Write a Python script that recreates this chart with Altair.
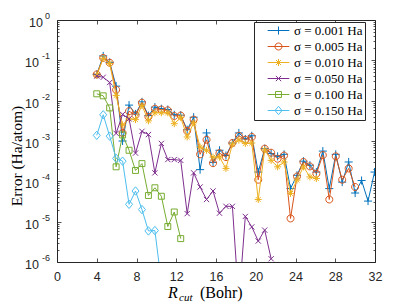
import altair as alt
import pandas as pd

# ---------------- data ----------------
r_cut = [4.0, 4.65, 5.3, 5.95, 6.6, 7.25, 7.9, 8.55, 9.2, 9.85, 10.5, 11.15, 11.8,
         12.45, 13.1, 13.75, 14.4, 15.05, 15.7, 16.35, 17.0, 17.65, 18.3, 18.95,
         19.6, 20.25, 20.9, 21.55, 22.2, 22.85, 23.5, 24.15, 24.8, 25.45, 26.1,
         26.75, 27.4, 28.05, 28.7, 29.35, 30.0, 30.65, 31.3, 31.95]

series_names = ["σ = 0.001 Ha", "σ = 0.005 Ha", "σ = 0.010 Ha",
                "σ = 0.050 Ha", "σ = 0.100 Ha", "σ = 0.150 Ha"]
colors = ["#0072BD", "#D95319", "#EDB120", "#7E2F8E", "#77AC30", "#4DBEEE"]

# log10 of the error (Ha/atom), one entry per R_cut point
log_err_0001 = [-1.35, -0.89, -1.05, -1.64, -3.00, -2.11, -2.33, -2.03, -2.37, -2.16,
                -2.20, -2.22, -2.35, -2.36, -2.72, -2.41, -3.71, -2.80, -3.53, -3.23,
                -3.36, -3.05, -2.80, -2.95, -2.87, -3.77, -3.19, -3.31, -3.38, -3.33,
                -4.18, -3.85, -3.50, -3.60, -3.77, -3.25, -4.18, -3.33, -4.02, -3.52,
                -4.29, -3.98, -4.49, -3.77]
log_err_0005 = [-1.35, -0.94, -1.06, -1.73, -2.80, -2.26, -2.36, -2.05, -2.40, -2.20,
                -2.22, -2.24, -2.38, -2.37, -2.75, -2.47, -3.33, -2.97, -3.55, -3.30,
                -3.40, -3.05, -2.87, -2.97, -2.90, -3.96, -3.19, -3.29, -3.44, -3.36,
                -4.92, -3.88, -3.52, -3.63, -3.81, -3.35, -4.45, -3.38, -3.96, -3.68,
                -4.14]
log_err_0010 = [-1.37, -0.95, -1.08, -1.87, -2.60, -2.45, -2.47, -2.12, -2.50, -2.30,
                -2.30, -2.30, -2.57, -2.42, -2.90, -2.55, -3.15, -3.23, -3.40, -3.40,
                -3.68, -3.08, -2.98, -3.06, -3.05, -4.45, -3.22, -3.48, -3.64, -3.52,
                -4.30, -3.97, -3.64, -3.89, -3.93]
log_err_0050 = [-1.39, -1.42, -1.55, -2.81, -2.34, -2.45, -3.30, -2.76, -2.84, -3.79,
                -3.06, -3.46, -3.46, -3.48, -4.80, -3.79, -4.14, -4.45, -4.24, -4.79,
                -4.62, -4.62, -7.00, -4.87, -5.13, -5.48, -5.21, -5.92]
log_err_0100 = [-1.83, -1.88, -2.18, -3.64, -2.85, -3.23, -3.73, -3.56, -4.35, -4.16,
                -4.37, -5.12, -4.76, -5.42]
log_err_0150 = [-2.86, -2.35, -2.88, -3.43, -3.50, -4.57, -4.24, -4.70, -5.23, -5.22,
                -6.50]

all_logs = [log_err_0001, log_err_0005, log_err_0010,
            log_err_0050, log_err_0100, log_err_0150]

rows = []
for name, logs in zip(series_names, all_logs):
    for r, lv in zip(r_cut, logs):
        rows.append({"series": name, "r": r, "err": 10 ** lv})
df = pd.DataFrame(rows)

y_tick_values = [1, 1e-1, 1e-2, 1e-3, 1e-4, 1e-5, 1e-6]
y_tick_sups = ["0", "-1", "-2", "-3", "-4", "-5", "-6"]
x_tick_values = [0, 4, 8, 12, 16, 20, 24, 28, 32]
y_minor = [m * 10.0 ** e for e in range(-6, 0) for m in range(2, 10)]

# ---------------- styling ----------------
marker_paths = [
    "M-1.15,0L1.15,0M0,-1.15L0,1.15",
    "M1,0A1,1,0,1,1,-1,0A1,1,0,1,1,1,0Z",
    "M-1,0L1,0M0,-1L0,1M-0.7,-0.7L0.7,0.7M-0.7,0.7L0.7,-0.7",
    "M-0.75,-0.75L0.75,0.75M-0.75,0.75L0.75,-0.75",
    "M-0.85,-0.85L0.85,-0.85L0.85,0.85L-0.85,0.85Z",
    "M0,-1.2L1,0L0,1.2L-1,0Z",
]
legend_line = "M-3.1,0L3.1,0"
legend_paths = [legend_line + p for p in marker_paths]

AX = "#262626"
SANS = "Liberation Sans"
SERIF = "Liberation Serif"

xscale = alt.Scale(domain=[0, 32], nice=False, zero=False)
yscale = alt.Scale(type="log", domain=[1e-6, 1], nice=False)

def tick_axis(orient, values, size, labels=False):
    kw = dict(orient=orient, values=values, tickSize=size, offset=-size,
              domain=False, grid=False, labels=labels, title=None,
              tickColor=AX, tickWidth=0.8)
    if labels:
        kw.update(labelFont=SANS, labelFontSize=12.5, labelColor=AX,
                  labelPadding=8.5, labelFlush=False)
    return alt.Axis(**kw)

axes_plan = [
    (tick_axis("bottom", x_tick_values, 4, labels=True), tick_axis("left", y_tick_values, 4)),
    (tick_axis("top", x_tick_values, 4), tick_axis("right", y_tick_values, 4)),
    (None, tick_axis("left", y_minor, 2)),
    (None, tick_axis("right", y_minor, 2)),
]

layers = []
k = 0
for name, color, path in zip(series_names, colors, marker_paths):
    base = alt.Chart(df).transform_filter(alt.datum.series == name)
    for mark in ("line", "point"):
        xa, ya = axes_plan[k] if k < len(axes_plan) else (None, None)
        k += 1
        if mark == "line":
            m = base.mark_line(color=color, strokeWidth=1, clip=True)
        else:
            m = base.mark_point(shape=path, filled=False, size=49, strokeWidth=1,
                                color=color, opacity=1, clip=True)
        layers.append(m.encode(
            x=alt.X("r:Q", scale=xscale, axis=xa),
            y=alt.Y("err:Q", scale=yscale, axis=ya),
        ))

leg = alt.Legend(title=None, orient="none", legendX=197, legendY=2,
                 symbolSize=49, symbolStrokeWidth=1, symbolOffset=16,
                 labelOffset=9, labelFont=SERIF, labelFontSize=13,
                 labelColor="#000000", padding=2, rowPadding=2,
                 strokeColor=AX, fillColor="white",
                 labelExpr="datum.label + '     '")

legend_layer = alt.Chart(df).transform_filter("false").mark_point(
    filled=False, size=49, strokeWidth=1, opacity=1
).encode(
    x=alt.X("r:Q", scale=xscale, axis=None),
    y=alt.Y("err:Q", scale=yscale, axis=None),
    color=alt.Color("series:N", scale=alt.Scale(domain=series_names, range=colors), legend=leg),
    shape=alt.Shape("series:N", scale=alt.Scale(domain=series_names, range=legend_paths), legend=leg),
)

ylab = pd.DataFrame({"v": y_tick_values, "sup": y_tick_sups})
ten_zero = alt.Chart(ylab).transform_filter("datum.sup == '0'").mark_text(
    text="10", align="right", baseline="middle", dy=3, font=SANS, fontSize=12.5, color=AX
).encode(x=alt.value(-14), y=alt.Y("v:Q", scale=yscale, axis=None))
ten_neg = alt.Chart(ylab).transform_filter("datum.sup != '0'").mark_text(
    text="10", align="right", baseline="middle", dy=3, font=SANS, fontSize=12.5, color=AX
).encode(x=alt.value(-18), y=alt.Y("v:Q", scale=yscale, axis=None))
sups = alt.Chart(ylab).mark_text(
    align="right", baseline="middle", dy=-4, font=SANS, fontSize=9, color=AX
).encode(x=alt.value(-7), y=alt.Y("v:Q", scale=yscale, axis=None), text="sup:N")

one = alt.Data(values=[{"a": 1}])
xt_r = alt.Chart(one).mark_text(text="R", font=SERIF, fontStyle="italic", fontSize=16,
                                align="left", baseline="alphabetic", color="#000000"
                                ).encode(x=alt.value(111), y=alt.value(278))
xt_cut = alt.Chart(one).mark_text(text="cut", font=SERIF, fontStyle="italic", fontSize=11,
                                  align="left", baseline="alphabetic", color="#000000"
                                  ).encode(x=alt.value(122), y=alt.value(281))
xt_bohr = alt.Chart(one).mark_text(text="(Bohr)", font=SERIF, fontSize=16,
                                   align="left", baseline="alphabetic", color="#000000"
                                   ).encode(x=alt.value(143), y=alt.value(278))
yt = alt.Chart(one).mark_text(text="Error (Ha/atom)", font=SERIF, fontSize=15.5, angle=270,
                              align="center", baseline="middle", color="#000000"
                              ).encode(x=alt.value(-40), y=alt.value(136))

chart = alt.layer(*layers, legend_layer, ten_zero, ten_neg, sups,
                  xt_r, xt_cut, xt_bohr, yt).resolve_axis(
    x="independent", y="independent"
).properties(
    width=318, height=242,
    autosize=alt.AutoSizeParams(type="none"),
    padding={"left": 49, "top": 12, "right": 24, "bottom": 42},
    background="white",
).configure_view(stroke=AX, strokeWidth=1)

chart.save("out.html", embed_options={"renderer": "svg", "actions": False})
